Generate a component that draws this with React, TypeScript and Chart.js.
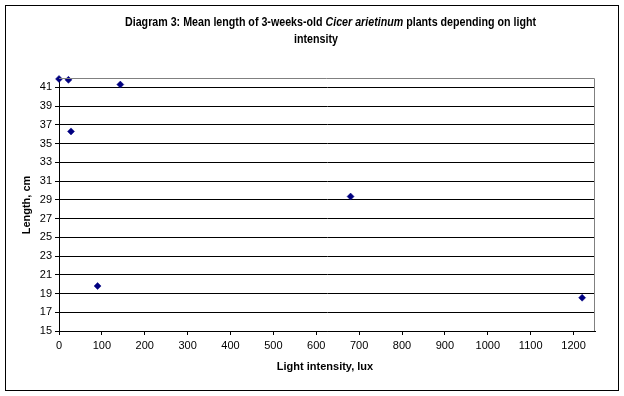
import React, { useEffect, useRef } from "react";
import { Chart, registerables } from "chart.js";

Chart.register(...registerables);

const lightIntensity: number[] = [0, 22, 28, 90, 143, 680, 1220];
const meanLength: number[] = [41.9, 41.8, 36.3, 19.8, 41.3, 29.35, 18.55];

const xTickValues: number[] = [0, 100, 200, 300, 400, 500, 600, 700, 800, 900, 1000, 1100, 1200];
const yTickValues: number[] = [15, 17, 19, 21, 23, 25, 27, 29, 31, 33, 35, 37, 39, 41];

const titleLine1 = [
  { text: "Diagram 3: Mean length of 3-weeks-old ", italic: false },
  { text: "Cicer arietinum", italic: true },
  { text: " plants depending on light", italic: false },
];
const titleLine2 = "intensity";
const xTitle = "Light intensity, lux";
const yTitle = "Length, cm";

const FAMILY = '"Liberation Sans", Arial, sans-serif';

const decorPlugin = {
  id: "decor",
  afterDraw(chart: any) {
    const ctx = chart.ctx as CanvasRenderingContext2D;
    const a = chart.chartArea;
    ctx.save();
    ctx.strokeStyle = "#000";
    ctx.lineWidth = 1;
    ctx.strokeRect(5.5, 5.5, 613, 385);
    ctx.strokeStyle = "#808080";
    ctx.beginPath();
    ctx.moveTo(a.left, a.top + 0.5);
    ctx.lineTo(a.right - 0.5, a.top + 0.5);
    ctx.lineTo(a.right - 0.5, a.bottom);
    ctx.stroke();

    ctx.fillStyle = "#000";
    ctx.textBaseline = "middle";
    ctx.textAlign = "left";
    const base = "bold 12px " + FAMILY;
    const ital = "italic bold 12px " + FAMILY;
    let total = 0;
    const widths = titleLine1.map((s) => {
      ctx.font = s.italic ? ital : base;
      const w = ctx.measureText(s.text).width;
      total += w;
      return w;
    });
    const sx = 411 / total;
    ctx.save();
    ctx.translate(125, 23);
    ctx.scale(sx, 1);
    let x = 0;
    titleLine1.forEach((s, i) => {
      ctx.font = s.italic ? ital : base;
      ctx.fillText(s.text, x, 0);
      x += widths[i];
    });
    ctx.restore();
    ctx.save();
    ctx.font = base;
    const w2 = ctx.measureText(titleLine2).width;
    ctx.translate(316 - (w2 * sx) / 2, 40);
    ctx.scale(sx, 1);
    ctx.fillText(titleLine2, 0, 0);
    ctx.restore();

    ctx.font = "bold 11px " + FAMILY;
    ctx.textAlign = "center";
    ctx.fillText(xTitle, 325, 367);
    ctx.save();
    ctx.translate(27, 205);
    ctx.rotate(-Math.PI / 2);
    ctx.fillText(yTitle, 0, 0);
    ctx.restore();
    ctx.restore();
  },
};

export default function App() {
  const ref = useRef<HTMLCanvasElement | null>(null);
  useEffect(() => {
    if (!ref.current) return;
    const chart = new Chart(ref.current, {
      type: "scatter",
      data: {
        datasets: [
          {
            data: lightIntensity.map((x, i) => ({ x, y: meanLength[i] })),
            pointStyle: "rectRot",
            pointRadius: 3.5,
            backgroundColor: "#000080",
            borderColor: "#000080",
            borderWidth: 0.5,
            clip: false as any,
          },
        ],
      },
      options: {
        animation: false,
        responsive: false,
        devicePixelRatio: 1,
        layout: { padding: { left: 0, top: 78, right: 29, bottom: 0 } },
        plugins: {
          legend: { display: false },
          tooltip: { enabled: false },
          title: { display: false },
        },
        scales: {
          x: {
            type: "linear",
            position: "bottom",
            min: 0,
            max: 1250,
            afterBuildTicks: (s: any) => {
              s.ticks = xTickValues.map((v) => ({ value: v }));
            },
            ticks: {
              autoSkip: false,
              maxRotation: 0,
              color: "#000",
              padding: 4,
              font: { family: FAMILY, size: 11 },
              callback: (v: any) => String(v),
            },
            grid: {
              display: true,
              drawOnChartArea: false,
              drawTicks: true,
              tickLength: 4,
              color: "#000",
              tickColor: "#000",
            },
            border: { display: true, color: "#000" },
            afterFit: (s: any) => {
              s.height = 65;
            },
          },
          y: {
            type: "linear",
            min: 15,
            max: 42,
            afterBuildTicks: (s: any) => {
              s.ticks = yTickValues.map((v) => ({ value: v }));
            },
            ticks: {
              autoSkip: false,
              color: "#000",
              padding: 3,
              font: { family: FAMILY, size: 11 },
              callback: (v: any) => String(v),
            },
            grid: {
              display: true,
              drawOnChartArea: true,
              drawTicks: true,
              tickLength: 4,
              color: "#000",
              tickColor: "#000",
            },
            border: { display: true, color: "#000" },
            afterFit: (s: any) => {
              s.width = 59;
            },
          },
        },
      },
      plugins: [decorPlugin],
    });
    return () => chart.destroy();
  }, []);
  return (
    <div style={{ position: "absolute", left: 0, top: 0, width: 624, height: 396, background: "#fff" }}>
      <canvas ref={ref} width={624} height={396} style={{ display: "block" }} />
    </div>
  );
}
